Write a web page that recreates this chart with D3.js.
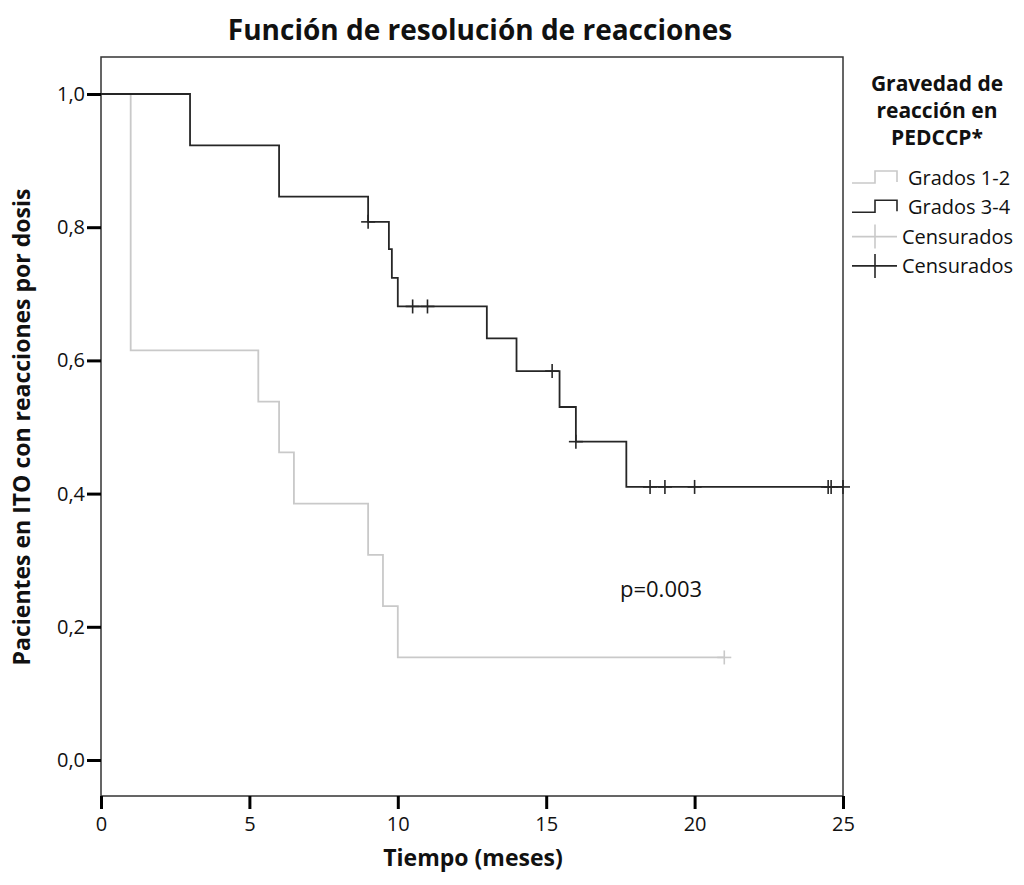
<!DOCTYPE html>
<html>
<head>
<meta charset="utf-8">
<script src="https://cdn.jsdelivr.net/npm/d3@7"></script>
<style>
  body { margin: 0; background: #fff; }
  svg text { font-family: "Open Sans", sans-serif; fill: #111; }
</style>
</head>
<body>
<div id="chart"></div>
<script>
// Grados 1-2 (gris)
const timesG12 = [0, 1, 5.3, 6.0, 6.5, 9.0, 9.5, 10.0, 21.0];
const survG12 = [1, 0.615, 0.538, 0.462, 0.385, 0.308, 0.231, 0.154, 0.154];
const censorG12 = [21.0];

// Grados 3-4 (negro)
const timesG34 = [0, 3, 6, 9, 9.7, 9.8, 10, 13, 14, 15.45, 16, 17.7, 25];
const survG34 = [1, 0.923, 0.846, 0.808, 0.767, 0.724, 0.681, 0.633, 0.584, 0.530, 0.478, 0.410, 0.410];
const censorG34 = [9.0, 10.5, 11.0, 15.2, 16.0, 18.5, 19.0, 20.0, 24.5, 24.6, 25];

const xTicks = [0, 5, 10, 15, 20, 25];
const yTicks = [0, 0.2, 0.4, 0.6, 0.8, 1.0];

const legendTitle = ["Gravedad de", "reacción en", "PEDCCP*"];
const legendItems = ["Grados 1-2", "Grados 3-4", "Censurados", "Censurados"];

const COLORS = { G12: "#c9c9c9", G34: "#262626", FRAME: "#333" };

const W = 1024, H = 885;
const FRAME = { left: 101, right: 843, top: 57, bottom: 796 };

const svg = d3.select("#chart").append("svg")
  .attr("width", W).attr("height", H);

const x = d3.scaleLinear().domain([0, 25]).range([FRAME.left, FRAME.right]);
const y = d3.scaleLinear().domain([0, 1]).range([760, 94]);

// frame
svg.append("rect")
  .attr("x", FRAME.left).attr("y", FRAME.top)
  .attr("width", FRAME.right - FRAME.left)
  .attr("height", FRAME.bottom - FRAME.top)
  .attr("fill", "none").attr("stroke", COLORS.FRAME).attr("stroke-width", 1.5);

// axes
const fmt = (d) => d3.format(".1f")(d).replace(".", ",");
const yAxis = svg.append("g")
  .attr("transform", `translate(${FRAME.left},0)`)
  .call(d3.axisLeft(y).tickValues(yTicks).tickFormat(fmt).tickSize(14).tickPadding(2));
const xAxis = svg.append("g")
  .attr("transform", `translate(0,${FRAME.bottom})`)
  .call(d3.axisBottom(x).tickValues(xTicks).tickSize(13).tickPadding(8));

[yAxis, xAxis].forEach((g) => {
  g.select(".domain").remove();
  g.selectAll(".tick line").attr("stroke", "#000").attr("stroke-width", 3);
  g.selectAll(".tick text")
    .style("font-family", "Open Sans, sans-serif")
    .style("font-size", "20px").attr("fill", "#111");
});

// step curves
const stepLine = d3.line().x((d) => x(d[0])).y((d) => y(d[1])).curve(d3.curveStepAfter);

function survAt(times, surv, t) {
  let v = surv[0];
  times.forEach((tt, i) => { if (t >= tt) v = surv[i]; });
  return v;
}

function drawGroup(times, surv, censors, color) {
  svg.append("path")
    .datum(d3.zip(times, surv))
    .attr("d", stepLine)
    .attr("fill", "none").attr("stroke", color).attr("stroke-width", 1.8);
  const g = svg.append("g").attr("stroke", color).attr("stroke-width", 1.6);
  censors.forEach((t) => {
    const cx = x(t), cy = y(survAt(times, surv, t));
    g.append("line").attr("x1", cx - 7).attr("x2", cx + 7).attr("y1", cy).attr("y2", cy);
    g.append("line").attr("x1", cx).attr("x2", cx).attr("y1", cy - 7).attr("y2", cy + 7);
  });
}

drawGroup(timesG12, survG12, censorG12, COLORS.G12);
drawGroup(timesG34, survG34, censorG34, COLORS.G34);

// title
svg.append("text")
  .attr("x", 480).attr("y", 40)
  .attr("text-anchor", "middle")
  .style("font-size", "28px").style("font-weight", "bold")
  .text("Función de resolución de reacciones");

// axis titles
svg.append("text")
  .attr("x", 473).attr("y", 866)
  .attr("text-anchor", "middle")
  .style("font-size", "23px").style("font-weight", "bold")
  .text("Tiempo (meses)");

svg.append("text")
  .attr("transform", "translate(30,427) rotate(-90)")
  .attr("text-anchor", "middle")
  .style("font-size", "23px").style("font-weight", "bold")
  .text("Pacientes en ITO con reacciones por dosis");

// p value
svg.append("text")
  .attr("x", 620).attr("y", 597)
  .style("font-size", "22px")
  .text("p=0.003");

// legend
const legend = svg.append("g");
legendTitle.forEach((t, i) => {
  legend.append("text")
    .attr("x", 937).attr("y", 91 + i * 27)
    .attr("text-anchor", "middle")
    .style("font-size", "21px").style("font-weight", "bold")
    .text(t);
});

const legendColors = [COLORS.G12, COLORS.G34, COLORS.G12, COLORS.G34];
legendItems.forEach((label, i) => {
  const cy = 178 + i * 29.3;
  const c = legendColors[i];
  if (i < 2) {
    legend.append("path")
      .attr("d", `M852,${cy + 5}H875V${cy - 7}H897V${cy + 4}`)
      .attr("fill", "none").attr("stroke", c).attr("stroke-width", 1.6);
    legend.append("text")
      .attr("x", 908).attr("y", cy + 7)
      .style("font-size", "20px").text(label);
  } else {
    legend.append("line").attr("x1", 852).attr("x2", 897).attr("y1", cy).attr("y2", cy)
      .attr("stroke", c).attr("stroke-width", 1.6);
    legend.append("line").attr("x1", 875).attr("x2", 875).attr("y1", cy - 12).attr("y2", cy + 12)
      .attr("stroke", c).attr("stroke-width", 1.6);
    legend.append("text")
      .attr("x", 902).attr("y", cy + 7)
      .style("font-size", "20px").text(label);
  }
});
</script>
</body>
</html>
